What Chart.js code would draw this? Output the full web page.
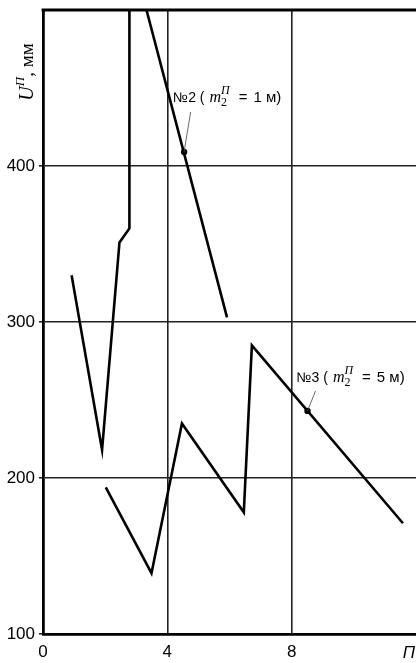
<!DOCTYPE html>
<html><head><meta charset="utf-8">
<script src="https://cdn.jsdelivr.net/npm/chart.js@4"></script>
<style>html,body{margin:0;padding:0;background:#fff}#wrap{width:416px;height:663px}</style>
</head><body><div id="wrap"><canvas id="c" width="416" height="663"></canvas></div>
<script>
// ---- data ----
const xTicks = [0, 4, 8];
const yTicks = [100, 200, 300, 400];
const curve1X = [0.92, 1.90, 2.46, 2.78, 2.78];
const curve1Y = [330, 218, 351, 360, 500];
const curve2X = [3.33, 5.92];
const curve2Y = [500, 303];
const curve3X = [2.02, 3.49, 4.47, 6.46, 6.72, 11.58];
const curve3Y = [194, 139, 235, 178, 285, 171];
const markerX = [4.54, 8.51];
const markerY = [409, 243];
const labelNames = ['№2', '№3'];
const labelMass = ['1', '5'];

const pts = (xs, ys) => xs.map((v, i) => ({x: v, y: ys[i]}));
const lineStyle = {borderColor: '#000', borderWidth: 2.6, pointRadius: 0, tension: 0, fill: false, clip: 0};

const SANS = '"Liberation Sans", Arial, sans-serif';
const SERIF = '"Liberation Serif", "Times New Roman", serif';

function drawRich(ctx, x0, yMid, parts) {
  let x = x0;
  ctx.textBaseline = 'alphabetic';
  ctx.textAlign = 'left';
  for (const p of parts) {
    if (p.gap) { x += p.gap; continue; }
    if (p.stack) {
      let w = 0;
      for (const s of p.stack) {
        ctx.font = s.font;
        ctx.fillText(s.t, x, yMid + s.dy);
        w = Math.max(w, ctx.measureText(s.t).width);
      }
      x += w;
    } else {
      ctx.font = p.font;
      ctx.fillText(p.t, x, yMid + (p.dy || 0));
      x += ctx.measureText(p.t).width;
    }
  }
  return x;
}

const deco = {
  id: 'deco',
  afterDatasetsDraw(chart) {
    const {ctx, chartArea: a, scales: {x, y}} = chart;
    ctx.save();
    // top frame line
    ctx.strokeStyle = '#000';
    ctx.lineWidth = 2.8;
    ctx.beginPath();
    ctx.moveTo(a.left - 1.4, a.top);
    ctx.lineTo(a.right, a.top);
    ctx.stroke();

    const offs = [{tx: -11, ty: -50, lx: 6.5, ly: -40}, {tx: -11, ty: -29, lx: 8, ly: -20}];
    for (let i = 0; i < markerX.length; i++) {
      const px = x.getPixelForValue(markerX[i]);
      const py = y.getPixelForValue(markerY[i]);
      const o = offs[i];
      ctx.strokeStyle = '#444';
      ctx.lineWidth = 0.8;
      ctx.beginPath();
      ctx.moveTo(px, py);
      ctx.lineTo(px + o.lx, py + o.ly);
      ctx.stroke();
      ctx.fillStyle = '#000';
      drawRich(ctx, px + o.tx, py + o.ty, [
        {t: labelNames[i] + ' (', font: '14px ' + SANS},
        {gap: 5},
        {t: 'm', font: 'italic 16px ' + SERIF},
        {stack: [
          {t: '2', font: '12px ' + SERIF, dy: 4},
          {t: 'П', font: 'italic 12px ' + SERIF, dy: -8}
        ]},
        {gap: 9},
        {t: '=', font: '15px ' + SANS},
        {gap: 6},
        {t: labelMass[i] + ' м)', font: '15px ' + SANS}
      ]);
    }

    // x axis title
    ctx.fillStyle = '#000';
    ctx.font = 'italic 17px ' + SANS;
    ctx.textAlign = 'center';
    ctx.textBaseline = 'middle';
    ctx.fillText('П', 409, a.bottom + 19);

    // y axis title (rotated)
    ctx.translate(33, 72);
    ctx.rotate(-Math.PI / 2);
    const parts = [
      {t: 'U', font: 'italic 20px ' + SERIF},
      {t: 'П', font: 'italic 13px ' + SERIF, dy: -9},
      {t: ', мм', font: '19px ' + SERIF}
    ];
    let w = 0;
    for (const p of parts) { ctx.font = p.font; w += ctx.measureText(p.t).width; }
    drawRich(ctx, -w / 2, 0, parts);
    ctx.restore();
  }
};

new Chart(document.getElementById('c'), {
  type: 'line',
  data: {
    datasets: [
      {...lineStyle, data: pts(curve1X, curve1Y)},
      {...lineStyle, data: pts(curve2X, curve2Y)},
      {...lineStyle, data: pts(curve3X, curve3Y)},
      {type: 'scatter', data: pts(markerX, markerY), pointRadius: 3.2, pointBackgroundColor: '#000', pointBorderWidth: 0, showLine: false, clip: 0}
    ]
  },
  options: {
    responsive: false,
    animation: false,
    devicePixelRatio: 1,
    layout: {autoPadding: false, padding: {top: 10, right: 0, left: 0, bottom: 0}},
    plugins: {legend: {display: false}, tooltip: {enabled: false}},
    scales: {
      x: {
        type: 'linear', min: 0, max: 12,
        afterBuildTicks(s) { s.ticks = [0, 4, 8, 12].map(v => ({value: v})); },
        afterFit(s) { s.height = 29; s.paddingLeft = 0; s.paddingRight = 0; },
        ticks: {
          autoSkip: false, maxRotation: 0, padding: 8, color: '#000',
          font: {family: SANS, size: 17},
          callback: v => xTicks.includes(v) ? String(v) : null
        },
        grid: {
          drawTicks: false, lineWidth: 1.6,
          color: c => (c.tick && (c.tick.value === 4 || c.tick.value === 8)) ? '#222' : 'rgba(0,0,0,0)'
        },
        border: {color: '#000', width: 2.8}
      },
      y: {
        type: 'linear', min: 100, max: 500,
        afterBuildTicks(s) { s.ticks = [100, 200, 300, 400, 500].map(v => ({value: v})); },
        afterFit(s) { s.width = 43; s.paddingTop = 0; s.paddingBottom = 0; },
        ticks: {
          padding: 4, color: '#000',
          font: {family: SANS, size: 17},
          callback: v => yTicks.includes(v) ? String(v) : null
        },
        grid: {
          drawTicks: true, tickLength: 4, lineWidth: 1.6,
          color: c => (c.tick && c.tick.value > 100 && c.tick.value < 500) ? '#222' : 'rgba(0,0,0,0)',
          tickColor: c => (c.tick && c.tick.value < 500) ? '#222' : 'rgba(0,0,0,0)'
        },
        border: {color: '#000', width: 2.8}
      }
    }
  },
  plugins: [deco]
});
</script>
</body></html>
